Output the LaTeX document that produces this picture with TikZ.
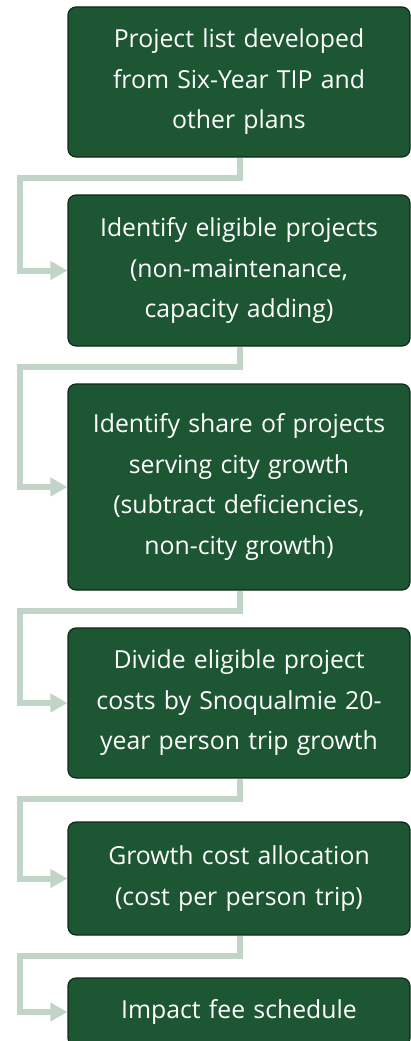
\documentclass[tikz,border=0pt]{standalone}
\usepackage{fontspec}
\setmainfont{Open Sans}
\usetikzlibrary{arrows.meta}
\definecolor{boxfill}{HTML}{1D5632}
\definecolor{boxdraw}{HTML}{0E2A17}
\definecolor{conncol}{HTML}{C2D3C8}
\tikzset{
  stepbox/.style={draw=boxdraw, line width=1.2pt, fill=boxfill, rounded corners=8pt,
    minimum width=342pt, text width=336pt, align=center, text=white,
    font=\fontsize{24.8}{40.5}\selectfont, inner sep=0pt},
  conn/.style={draw=conncol, line width=6pt, -{Triangle[length=17pt,width=18pt]}, line join=miter}
}
\begin{document}
\begin{tikzpicture}[x=1pt,y=-1pt]
\useasboundingbox (0,0) rectangle (411,1041);
\clip (0,0) rectangle (411,1041);
\node[stepbox, minimum height=150pt] (b1) at (239,82) {Project list developed\\from Six-Year TIP and\\other plans};
\node[stepbox, minimum height=151pt] (b2) at (239,270.5) {Identify eligible projects\\(non-maintenance,\\capacity adding)};
\node[stepbox, minimum height=206pt] (b3) at (239,487) {Identify share of projects\\serving city growth\\(subtract deficiencies,\\non-city growth)};
\node[stepbox, minimum height=150pt] (b4) at (239,703) {Divide eligible project\\costs by Snoqualmie 20-\\year person trip growth};
\node[stepbox, minimum height=113pt] (b5) at (239,878.5) {Growth cost allocation\\(cost per person trip)};
\node[stepbox, minimum height=68pt] (b6) at (239,1012) {Impact fee schedule};
\foreach \a/\b in {b1/b2,b2/b3,b3/b4,b4/b5,b5/b6}{
  \draw[conn] ([xshift=1pt]\a.south) -- ++(0,20) -| ([xshift=-47pt]\b.west) -- (\b.west);
}
\end{tikzpicture}
\end{document}
